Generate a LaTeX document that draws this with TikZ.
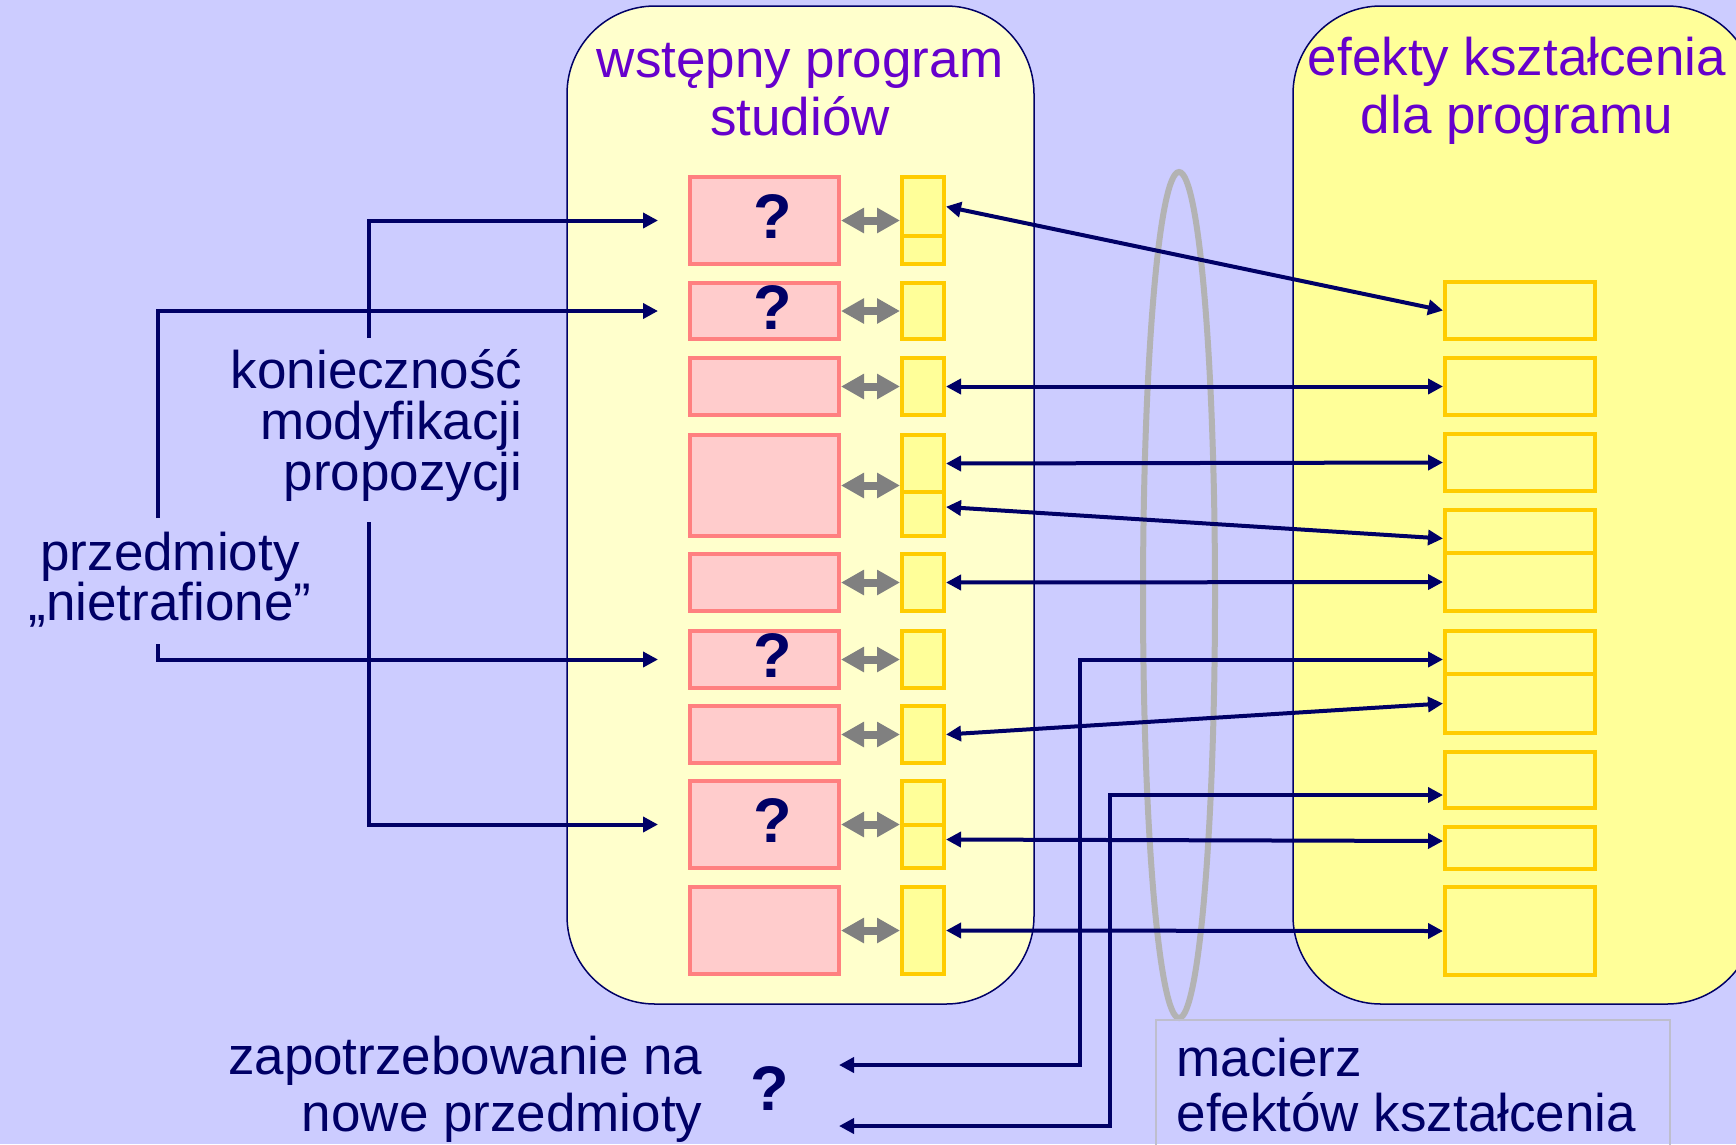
\documentclass[tikz,border=0pt]{standalone}
\usepackage{fontspec}
\setmainfont{Liberation Sans}
\usetikzlibrary{arrows.meta,calc,positioning}
\definecolor{bgLilac}{RGB}{204,204,255}
\definecolor{panelCream}{RGB}{255,255,204}
\definecolor{panelYellow}{RGB}{255,255,153}
\definecolor{boxPink}{RGB}{255,204,204}
\definecolor{boxRed}{RGB}{255,128,128}
\definecolor{boxGold}{RGB}{255,204,0}
\definecolor{navyDark}{RGB}{0,0,102}
\definecolor{titlePurple}{RGB}{102,0,204}
\definecolor{ringGray}{RGB}{179,179,179}
\definecolor{arrowGray}{RGB}{128,128,128}
\definecolor{frameGray}{RGB}{190,190,205}

\tikzset{
  panel/.style={draw=navyDark, line width=1.5pt, rounded corners=88pt},
  pinkbox/.style={draw=boxRed, fill=boxPink, line width=4pt, inner sep=0pt, minimum width=149pt, anchor=north west},
  goalbox/.style={draw=boxGold, fill=panelYellow, line width=4pt, inner sep=0pt, anchor=north west},
  outlink/.style={navyDark, line width=4pt, {Triangle[length=15pt,width=15pt]}-{Triangle[length=15pt,width=15pt]}},
  feed/.style={navyDark, line width=4pt, -{Triangle[length=15pt,width=15pt]}},
  twoway/.style={arrowGray, line width=8pt, {Triangle[length=23pt,width=24pt]}-{Triangle[length=23pt,width=24pt]}},
  qmark/.style={navyDark, font=\fontsize{63}{63}\selectfont\bfseries},
  bigtext/.style={navyDark, font=\fontsize{53}{51}\selectfont},
  heading/.style={titlePurple, font=\fontsize{53}{58}\selectfont, align=center, anchor=base},
}

\begin{document}
\begin{tikzpicture}[x=1pt,y=-1pt]
\clip (0,0) rectangle (1736,1144);
\fill[bgLilac] (0,0) rectangle (1736,1144);

% the two panels
\draw[panel, fill=panelCream] (567,6) rectangle (1034,1004);
\draw[panel, fill=panelYellow] (1293,6) rectangle (1755,1004);
\node[heading] (progtitle) at (800,135) {wstępny program\\studiów};
\node[heading] (efftitle) at (1517,133) {efekty kształcenia\\dla programu};

% matrix ring and its caption
\draw[ringGray, line width=6pt] (1179,595) ellipse [x radius=36, y radius=423];
\draw[frameGray, line width=2pt] (1156,1020) rectangle (1670,1170);
\node[bigtext, font=\fontsize{53}{55}\selectfont, align=left, anchor=base west] (matrix) at (1173,1131) {macierz\\efektów kształcenia};

% course boxes
\foreach \i/\t/\b in {1/175/262, 2/281/337, 3/356/413, 4/433/534, 5/552/609,
                      6/629/686, 7/704/761, 8/779/866, 9/885/972}{
  \pgfmathsetmacro\h{\b-\t}
  \node[pinkbox, minimum height=\h pt] (p\i) at (688,\t) {};
}
% course outcome boxes
\foreach \n/\t/\b in {1a/175/234, 1b/234/262, 2/281/337, 3/356/413, 4a/433/490, 4b/490/534,
                      5/552/609, 6/629/686, 7/704/761, 8a/779/823, 8b/823/866, 9/885/972}{
  \pgfmathsetmacro\h{\b-\t}
  \node[goalbox, minimum width=42pt, minimum height=\h pt] (s\n) at (900,\t) {};
}
% program outcome boxes
\foreach \i/\t/\b in {1/280/337, 2/356/413, 3/432/489, 4/508/551, 5/551/609,
                      6/629/672, 7/672/731, 8/750/806, 9/825/867, 10/885/973}{
  \pgfmathsetmacro\h{\b-\t}
  \node[goalbox, minimum width=150pt, minimum height=\h pt] (e\i) at (1443,\t) {};
}

% question marks
\foreach \i in {1,2,6,8}
  \node[qmark] (q\i) at ([xshift=8pt,yshift=4pt]p\i.center) {?};

% course <-> its outcomes
\foreach \i in {1,...,9}
  \draw[twoway] (p\i.east) -- (p\i -| s1a.west);

% matrix links
\draw[outlink] (s1a.east) -- (e1.west);
\draw[outlink] (s3.east) -- (e2.west);
\draw[outlink] (s4a.east) -- (e3.west);
\draw[outlink] ([yshift=7pt]s4b.east) -- ([yshift=-7pt]e4.west);
\draw[outlink] (s5.east) -- (e5.west);
\draw[outlink] (s7.east) -- (e7.west);
\draw[outlink] ([yshift=7pt]s8b.east) -- ([yshift=7pt]e9.west);
\draw[outlink] (s9.east) -- (e10.west);

% need for new courses
\coordinate (need1) at (839,1065);
\coordinate (need2) at (839,1126);
\draw[outlink] (need1) -- ++(241,0) |- (p6 -| e6.west);
\draw[outlink] (need2) -- ++(271,0) |- ([yshift=-15pt]e8.west);
\node[bigtext, font=\fontsize{53}{57}\selectfont, align=right, anchor=base east] (need) at (706,1131) {zapotrzebowanie na\\nowe przedmioty};
\node[qmark, anchor=base] (needq) at (770,1110) {?};

% feedback on the left
\node[bigtext, align=right, anchor=base east] (modify) at (526,490) {konieczność\\modyfikacji\\propozycji};
\node[bigtext, font=\fontsize{53}{50}\selectfont, align=center, anchor=base] (missed) at (170,620) {przedmioty\\„nietrafione”};
\coordinate (modTop) at (369,338);
\coordinate (modBot) at (369,522);
\coordinate (missTop) at (158,518);
\coordinate (missBot) at (158,644);
\draw[feed] (modTop) |- ([xshift=-30pt]p1.west);
\draw[feed] (modBot) |- ([xshift=-30pt]p8.west);
\draw[feed] (missTop) |- ([xshift=-30pt]p2.west);
\draw[feed] (missBot) |- ([xshift=-30pt]p6.west);
\end{tikzpicture}
\end{document}
